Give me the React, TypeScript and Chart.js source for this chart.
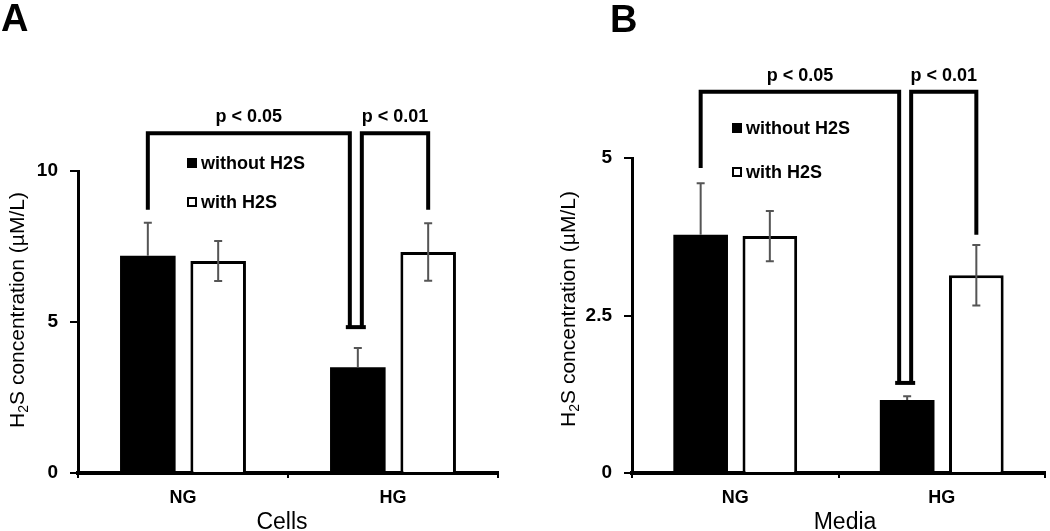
import React, { useEffect, useRef } from 'react';
import { Chart, registerables } from 'chart.js';

Chart.register(...registerables);

// ---- data ----
const categories = ['NG', 'HG'];
const seriesLabels = ['without H2S', 'with H2S'];

const cellsWithout = [7.19, 3.5];
const cellsWithoutErr = [1.1, 0.64];
const cellsWith = [7.02, 7.32];
const cellsWithErr = [0.66, 0.95];
const cellsTicks = [0, 5, 10];

const mediaWithout = [3.78, 1.16];
const mediaWithoutErr = [0.82, 0.06];
const mediaWith = [3.76, 3.14];
const mediaWithErr = [0.4, 0.48];
const mediaTicks = [0, 2.5, 5];

// significance brackets: p-labels, top value, leg end values [from, to]
const pLabels = ['p < 0.05', 'p < 0.01'];
const bracketEnds = [
  [[0, 0], [0, 1]],
  [[0, 1], [1, 1]],
]; // [datasetIndex, categoryIndex]
const cellsBracketTop = 11.25;
const cellsLegEnds = [[8.72, 4.83], [4.83, 8.72]];
const mediaBracketTop = 6.05;
const mediaLegEnds = [[4.84, 1.43], [1.43, 3.78]];

const FONT = '"Liberation Sans", Arial, Helvetica, sans-serif';

type PanelCfg = {
  letter: string;
  letterX: number;
  letterY: number;
  xTitle: string;
  xTitleX: number;
  without: number[];
  withoutErr: number[];
  withV: number[];
  withErr: number[];
  ticks: number[];
  bracketTop: number;
  legEnds: number[][];
  yWidth: number;
  padTop: number;
  padRight: number;
  yTitleX: number;
  yTitleY: number;
  legendX: number;
  legendRows: number[];
};

const cellsPanel: PanelCfg = {
  letter: 'A', letterX: 1, letterY: 31,
  xTitle: 'Cells', xTitleX: 282,
  without: cellsWithout, withoutErr: cellsWithoutErr,
  withV: cellsWith, withErr: cellsWithErr,
  ticks: cellsTicks,
  bracketTop: cellsBracketTop, legEnds: cellsLegEnds,
  yWidth: 78, padTop: 171, padRight: 27,
  yTitleX: 16, yTitleY: 310,
  legendX: 187, legendRows: [163, 202],
};

const mediaPanel: PanelCfg = {
  letter: 'B', letterX: 85, letterY: 32,
  xTitle: 'Media', xTitleX: 320,
  without: mediaWithout, withoutErr: mediaWithoutErr,
  withV: mediaWith, withErr: mediaWithErr,
  ticks: mediaTicks,
  bracketTop: mediaBracketTop, legEnds: mediaLegEnds,
  yWidth: 107, padTop: 158, padRight: 5,
  yTitleX: 42, yTitleY: 309,
  legendX: 207, legendRows: [128, 172],
};

const legShift = [[0, -8], [4, 0]];

function annotations(p: PanelCfg) {
  return {
    id: 'annotations',
    afterDraw(chart: any) {
      const ctx: CanvasRenderingContext2D = chart.ctx;
      const ys = chart.scales.y;
      const metas = [chart.getDatasetMeta(0), chart.getDatasetMeta(1)];
      ctx.save();

      // error bars
      ctx.strokeStyle = '#555';
      ctx.lineWidth = 2;
      const sets: [number[], number[], boolean][] = [
        [p.without, p.withoutErr, true],
        [p.withV, p.withErr, false],
      ];
      sets.forEach(([vals, errs, plusOnly], d) => {
        vals.forEach((v, i) => {
          const x = metas[d].data[i].x;
          const yT = ys.getPixelForValue(v + errs[i]);
          const yB = ys.getPixelForValue(plusOnly ? v : v - errs[i]);
          ctx.beginPath();
          ctx.moveTo(x, yT);
          ctx.lineTo(x, yB);
          ctx.moveTo(x - 4, yT);
          ctx.lineTo(x + 4, yT);
          if (!plusOnly) {
            ctx.moveTo(x - 4, yB);
            ctx.lineTo(x + 4, yB);
          }
          ctx.stroke();
        });
      });

      // brackets
      ctx.strokeStyle = '#000';
      ctx.lineWidth = 4;
      ctx.lineJoin = 'miter';
      ctx.lineCap = 'butt';
      const yTop = ys.getPixelForValue(p.bracketTop);
      ctx.fillStyle = '#000';
      ctx.font = `bold 18px ${FONT}`;
      ctx.textAlign = 'center';
      ctx.textBaseline = 'middle';
      bracketEnds.forEach((ends, b) => {
        const x0 = metas[ends[0][0]].data[ends[0][1]].x + legShift[b][0];
        const x1 = metas[ends[1][0]].data[ends[1][1]].x + legShift[b][1];
        const y0 = ys.getPixelForValue(p.legEnds[b][0]);
        const y1 = ys.getPixelForValue(p.legEnds[b][1]);
        ctx.beginPath();
        ctx.moveTo(x0, y0);
        ctx.lineTo(x0, yTop);
        ctx.lineTo(x1, yTop);
        ctx.lineTo(x1, y1);
        ctx.stroke();
        ctx.fillText(pLabels[b], (x0 + x1) / 2, yTop - 16);
      });
      // shared cap below the inner legs
      const capX = metas[0].data[1].x;
      const capY = ys.getPixelForValue(p.legEnds[0][1]);
      ctx.beginPath();
      ctx.moveTo(capX - 12, capY);
      ctx.lineTo(capX + 8, capY);
      ctx.stroke();

      // legend
      ctx.textAlign = 'left';
      ctx.font = `bold 18px ${FONT}`;
      seriesLabels.forEach((lab, i) => {
        const cy = p.legendRows[i];
        if (i === 0) {
          ctx.fillStyle = '#000';
          ctx.fillRect(p.legendX, cy - 5, 10, 10);
        } else {
          ctx.lineWidth = 2;
          ctx.strokeStyle = '#000';
          ctx.strokeRect(p.legendX + 1, cy - 4, 8, 8);
        }
        ctx.fillStyle = '#000';
        ctx.fillText(lab, p.legendX + 14, cy + 1);
      });

      // y title with subscript
      ctx.save();
      ctx.translate(p.yTitleX, p.yTitleY);
      ctx.rotate(-Math.PI / 2);
      ctx.textBaseline = 'alphabetic';
      ctx.textAlign = 'left';
      const big = `21px ${FONT}`;
      const small = `14px ${FONT}`;
      ctx.font = big;
      const wH = ctx.measureText('H').width;
      const rest = 'S concentration (\u00b5M/L)';
      const wR = ctx.measureText(rest).width;
      ctx.font = small;
      const w2 = ctx.measureText('2').width;
      const total = wH + w2 + wR;
      let cx = -total / 2;
      const base = 7.5;
      ctx.fillStyle = '#000';
      ctx.font = big;
      ctx.fillText('H', cx, base);
      cx += wH;
      ctx.font = small;
      ctx.fillText('2', cx, base + 4);
      cx += w2;
      ctx.font = big;
      ctx.fillText(rest, cx, base);
      ctx.restore();

      // x title
      ctx.font = `23px ${FONT}`;
      ctx.textAlign = 'center';
      ctx.textBaseline = 'alphabetic';
      ctx.fillStyle = '#000';
      ctx.fillText(p.xTitle, p.xTitleX, 529);

      // panel letter
      ctx.font = `bold 38px ${FONT}`;
      ctx.textAlign = 'left';
      ctx.fillText(p.letter, p.letterX, p.letterY);

      ctx.restore();
    },
  };
}

function makeConfig(p: PanelCfg): any {
  return {
    type: 'bar',
    data: {
      labels: categories,
      datasets: [
        {
          label: seriesLabels[0],
          data: p.without,
          backgroundColor: '#000',
          borderColor: '#000',
          borderWidth: 0,
          categoryPercentage: 0.67,
          barPercentage: 0.79,
        },
        {
          label: seriesLabels[1],
          data: p.withV,
          backgroundColor: '#fff',
          borderColor: '#000',
          borderWidth: 3,
          categoryPercentage: 0.67,
          barPercentage: 0.79,
        },
      ],
    },
    options: {
      responsive: false,
      animation: false,
      layout: { padding: { top: p.padTop, right: p.padRight, left: 0, bottom: 0 } },
      plugins: { legend: { display: false }, tooltip: { enabled: false } },
      scales: {
        x: {
          offset: true,
          grid: {
            display: true,
            drawOnChartArea: false,
            drawTicks: true,
            tickLength: 5,
            color: '#000',
            lineWidth: 2,
            offset: true,
          },
          border: { display: true, color: '#000', width: 4 },
          ticks: {
            color: '#000',
            font: { family: FONT, size: 18, weight: 'bold' },
            padding: 9,
          },
          afterFit: (s: any) => {
            s.height = 58;
          },
        },
        y: {
          min: 0,
          max: p.ticks[p.ticks.length - 1],
          afterBuildTicks: (s: any) => {
            s.ticks = p.ticks.map((v) => ({ value: v }));
          },
          grid: {
            display: true,
            drawOnChartArea: false,
            drawTicks: true,
            tickLength: 8,
            color: '#000',
            lineWidth: 2,
          },
          border: { display: true, color: '#000', width: 3 },
          ticks: {
            color: '#000',
            font: { family: FONT, size: 19, weight: 'bold' },
            padding: 12,
            callback: (v: any) => String(v),
          },
          afterFit: (s: any) => {
            s.width = p.yWidth;
          },
        },
      },
    },
    plugins: [annotations(p)],
  };
}

function Panel({ cfg, left }: { cfg: PanelCfg; left: number }) {
  const ref = useRef<HTMLCanvasElement>(null);
  useEffect(() => {
    const chart = new Chart(ref.current as HTMLCanvasElement, makeConfig(cfg));
    return () => chart.destroy();
  }, [cfg]);
  return (
    <canvas
      ref={ref}
      width={525}
      height={531}
      style={{ position: 'absolute', left, top: 0, width: 525, height: 531 }}
    />
  );
}

export default function App() {
  return (
    <div
      style={{
        position: 'absolute',
        left: 0,
        top: 0,
        width: 1050,
        height: 531,
        background: '#fff',
        overflow: 'hidden',
      }}
    >
      <Panel cfg={cellsPanel} left={0} />
      <Panel cfg={mediaPanel} left={525} />
    </div>
  );
}
